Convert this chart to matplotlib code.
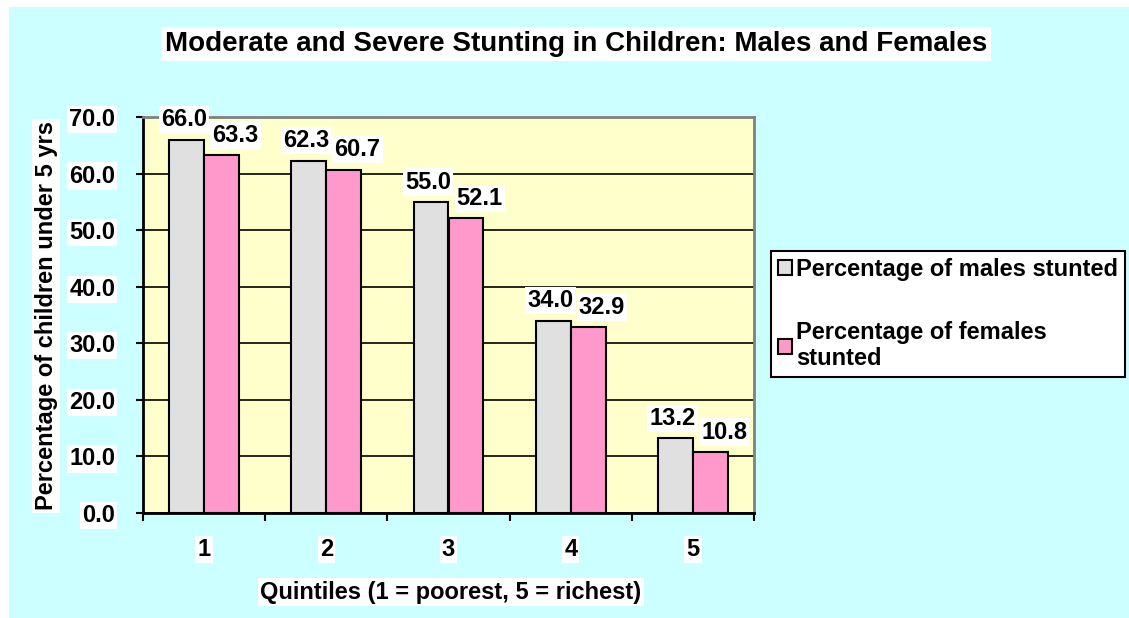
import numpy as np
import matplotlib
matplotlib.use("Agg")
import matplotlib.pyplot as plt
from matplotlib.patches import Rectangle

plt.rcParams['font.family'] = ['Liberation Sans', 'DejaVu Sans']
plt.rcParams['font.weight'] = 'bold'

quintiles = ["1", "2", "3", "4", "5"]
males = [66.0, 62.3, 55.0, 34.0, 13.2]
females = [63.3, 60.7, 52.1, 32.9, 10.8]
series_names = ["Percentage of males stunted", "Percentage of females\nstunted"]

fig = plt.figure(figsize=(11.29, 6.18), dpi=100)
fig.patch.set_facecolor("white")
W, H = 1129, 618
fig.patches.append(Rectangle((9 / W, 0), 1 - 9 / W, 1 - 7 / H, transform=fig.transFigure,
                             facecolor="#CCFFFF", edgecolor="none", zorder=-10))

ax = fig.add_axes([143 / W, 1 - 513 / H, (754 - 143) / W, (513 - 117) / H])
ax.set_facecolor("#FFFFCC")

x = np.arange(len(quintiles))
bw = 0.285
b1 = ax.bar(x - bw / 2, males, bw, color="#E0E0E0", edgecolor="black", linewidth=1.5, zorder=3,
            label=series_names[0])
b2 = ax.bar(x + bw / 2, females, bw, color="#FF99CC", edgecolor="black", linewidth=1.5, zorder=3,
            label=series_names[1])

box = dict(facecolor="white", edgecolor="none", pad=1.5)
# labels sit a little left of the grey bars and right of the pink ones
for bars, dx in ((b1, -2), (b2, 10)):
    for r in bars:
        ax.annotate(f"{r.get_height():.1f}", (r.get_x() + r.get_width() / 2, r.get_height()),
                    xytext=(dx, 6), textcoords="offset points", ha="center", va="bottom",
                    fontsize=17, fontweight="bold", bbox=box, zorder=5, annotation_clip=False)

ax.set_ylim(0, 70)
ax.set_yticks(np.arange(0, 71, 10))
ax.set_yticklabels([f"{v:.1f}" for v in np.arange(0, 71, 10)], fontsize=17, fontweight="bold")
for t in ax.get_yticklabels():
    t.set_bbox(dict(facecolor="white", edgecolor="none", pad=1.5))
ax.yaxis.grid(True, color="black", linewidth=1.2, zorder=0)
ax.set_axisbelow(True)

ax.set_xlim(-0.5, 4.5)
ax.set_xticks(np.arange(-0.5, 5, 1))
ax.set_xticklabels([])
ax.set_xticks(x, minor=True)
ax.set_xticklabels(quintiles, minor=True, fontsize=17, fontweight="bold")
ax.tick_params(axis="x", which="minor", length=0, pad=18)
ax.tick_params(axis="x", which="major", length=5.5, width=1.5, direction="out")
ax.tick_params(axis="y", length=5, width=1.5, direction="out", pad=15)
for t in ax.get_xticklabels(minor=True):
    t.set_bbox(dict(facecolor="white", edgecolor="none", pad=1.5))

for s in ("left", "bottom"):
    ax.spines[s].set_color("black")
    ax.spines[s].set_linewidth(2)
for s in ("top", "right"):
    ax.spines[s].set_color("#808080")
    ax.spines[s].set_linewidth(2)

ax.set_xlabel("Quintiles (1 = poorest, 5 = richest)", fontsize=17, fontweight="bold",
              bbox=dict(facecolor="white", edgecolor="none", pad=1.5))
ax.xaxis.set_label_coords((451 - 143) / 611, (513 - 592) / 396)
ax.xaxis.label.set_va("center")
ax.set_ylabel("Percentage of children under 5 yrs", fontsize=17, fontweight="bold",
              bbox=dict(facecolor="white", edgecolor="none", pad=1.5))
ax.yaxis.set_label_coords((46 - 143) / 611, (513 - 316) / 396)
ax.yaxis.label.set_va("center")

fig.text(576 / W, 1 - 44 / H, "Moderate and Severe Stunting in Children: Males and Females",
         ha="center", va="center", fontsize=20, fontweight="bold",
         bbox=dict(facecolor="white", edgecolor="none", pad=3))

leg = fig.legend(handles=[b1, b2], loc="upper left", bbox_to_anchor=(771 / W, 1 - 251 / H),
                 fontsize=17, frameon=True, fancybox=False, handlelength=0.6, handleheight=0.6,
                 handletextpad=0.15, labelspacing=1.7, borderpad=0.3, borderaxespad=0)
leg.get_frame().set_edgecolor("black")
leg.get_frame().set_linewidth(1.5)
leg.get_frame().set_facecolor("white")
leg.get_frame().set_alpha(1)
for t in leg.get_texts():
    t.set_fontweight("bold")
    t.set_linespacing(1.15)

fig.savefig("out.png", dpi=100)
